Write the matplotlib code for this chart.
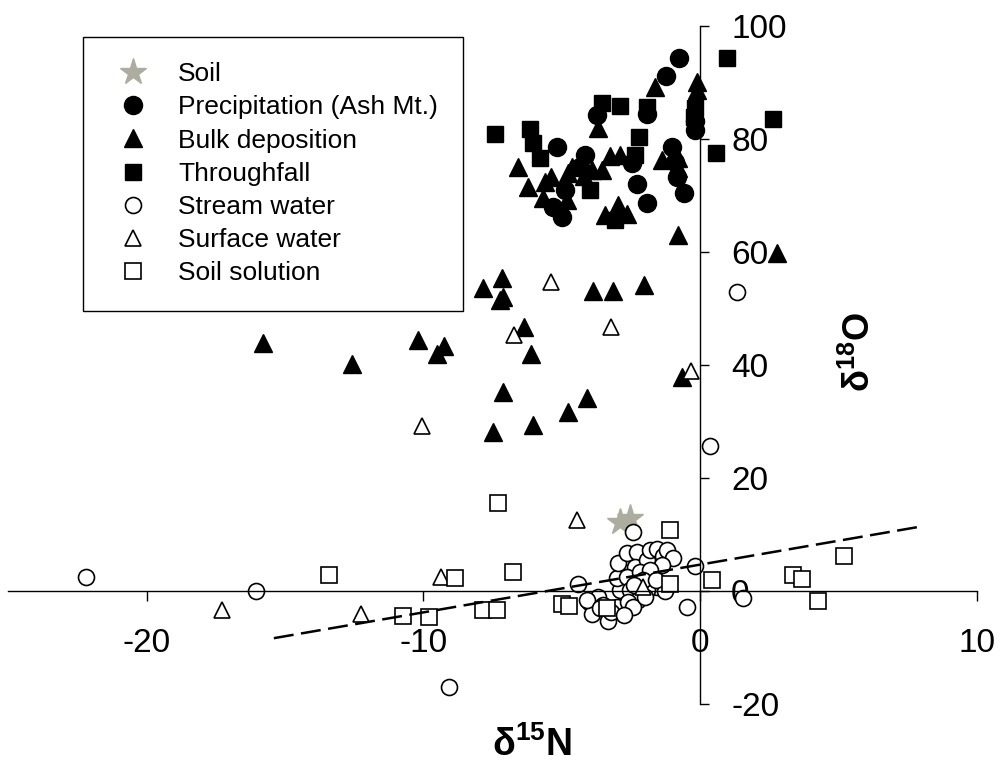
import numpy as np
import matplotlib
matplotlib.use("Agg")
import matplotlib.pyplot as plt

plt.rcParams['font.family'] = ['Liberation Sans', 'DejaVu Sans']
plt.rcParams['mathtext.fontset'] = 'custom'
plt.rcParams['mathtext.rm'] = 'Liberation Sans'
plt.rcParams['mathtext.bf'] = 'Liberation Sans:bold'
plt.rcParams['axes.unicode_minus'] = False

# data (d15N, d18O)
soil_x = [-2.89, -2.53]
soil_y = [12.35, 12.96]

precip_x = [-0.76, -1.24, -1.9, -0.18, -0.18, -1.02, -0.9, -0.84, -0.57, -2.27,
            -1.93, -2.46, -5.18, -4.16, -4.34, -5.0, -5.3, -4.88, -3.73]
precip_y = [94.4, 91.2, 84.6, 83.2, 81.7, 78.7, 76.1, 73.4, 70.5, 72.1,
            68.7, 75.8, 78.7, 77.3, 75.2, 66.3, 68.1, 71.1, 84.3]

bulk_x = [-1.63, -0.12, -0.12, -1.38, -0.78, -0.78, -0.78, 2.77, -3.43, -2.95,
          -2.65, -3.25, -2.89, -3.55, -3.67, -6.57, -6.2, -5.6, -5.66, -5.37,
          -4.82, -4.64, -4.76, -3.91, -4.2,
          -7.17, -7.83, -7.11, -7.23, -3.86, -3.13, -2.01, -6.36, -6.12, -15.8,
          -12.57, -10.18, -9.25, -9.52, -7.13, -7.47, -6.05, -4.76, -4.07, -0.66]
bulk_y = [89.3, 90.2, 88.8, 76.4, 76.7, 74.9, 63.1, 59.9, 66.6, 68.4,
          66.9, 77.0, 77.3, 74.6, 82.0, 75.2, 71.6, 72.5, 69.6, 73.3,
          69.3, 75.2, 74.0, 74.6, 73.5,
          55.4, 53.7, 52.2, 51.6, 53.2, 53.2, 54.2, 46.8, 42.0, 44.0,
          40.2, 44.6, 43.5, 42.0, 35.3, 28.3, 29.5, 31.7, 34.3, 38.0]

through_x = [0.96, 2.65, 0.58, -2.89, -0.18, -0.2, -2.19, -2.35, -3.07, -3.55,
             -6.14, -6.02, -5.78, -7.41, -3.98, -1.92]
through_y = [94.5, 83.6, 77.6, 85.9, 85.5, 84.0, 80.5, 77.3, 65.8, 86.4,
             81.8, 79.3, 76.7, 80.9, 71.1, 85.8]

stream_x = [-22.2, -16.05, -9.07, 0.36, 1.34, 1.57, -0.48, -0.18, -2.41, -4.4,
            -4.0, -3.68, -3.49, -3.91, -3.31, -3.01, -2.89, -3.01, -2.95, -2.65,
            -2.29, -2.35, -2.65, -2.53, -2.23, -2.59, -2.41, -1.93, -1.81, -1.56,
            -1.33, -1.2, -0.96, -1.38, -1.69, -1.56, -1.93, -1.26, -2.17, -1.81,
            -2.05, -4.1, -3.2, -2.75, -2.0, -1.6, -3.6, -2.4]
stream_y = [2.6, 0.0, -16.9, 25.7, 53.0, -1.2, -2.8, 4.5, 10.6, 1.3,
            -1.8, -0.9, -2.4, -3.9, -5.3, -2.7, 0.3, 2.3, 5.0, 6.8,
            7.0, 4.4, 2.6, 0.3, -1.5, -1.8, -2.7, 5.6, 7.3, 7.6,
            6.2, 7.3, 5.9, 4.7, 2.6, 0.85, 0.3, 0.0, 3.5, 3.8,
            2.0, -1.5, -3.6, -4.2, -1.0, 2.0, -3.0, 1.2]

surface_x = [-5.38, -6.71, -3.23, -0.34, -10.03, -4.43, -9.37, -17.29, -12.25, -2.05]
surface_y = [54.7, 45.4, 46.8, 39.1, 29.3, 12.7, 2.6, -3.3, -3.9, 0.85]

soilsol_x = [-7.31, -6.77, -8.85, -10.75, -9.78, -7.83, -7.35, -5.0, -4.73, -13.4,
             -1.08, -1.08, 0.42, -3.37, 5.22, 3.37, 3.67, 4.26]
soilsol_y = [15.7, 3.5, 2.4, -4.3, -4.6, -3.2, -3.2, -2.2, -2.6, 3.0,
             10.9, 1.3, 2.0, -3.0, 6.2, 2.9, 2.2, -1.7]

# regression line
fit_slope = 0.845
fit_icpt = 4.75
fit_range = [-15.4, 8.0]

fig = plt.figure(figsize=(10.01, 7.68), dpi=100)
ax = fig.add_axes([0.0082, 0.0827, 0.9675, 0.8828])

ax.plot(soil_x, soil_y, ls='none', marker='*', ms=20, color='#adad9f', mec='#adad9f', label='Soil')
ax.plot(precip_x, precip_y, ls='none', marker='o', ms=13, color='black', label='Precipitation (Ash Mt.)')
ax.plot(bulk_x, bulk_y, ls='none', marker='^', ms=13, color='black', label='Bulk deposition')
ax.plot(through_x, through_y, ls='none', marker='s', ms=12, color='black', label='Throughfall')
ax.plot(stream_x, stream_y, ls='none', marker='o', ms=11.5, mfc='white', mec='black', mew=1.2, label='Stream water')
ax.plot(surface_x, surface_y, ls='none', marker='^', ms=12, mfc='white', mec='black', mew=1.2, label='Surface water')
ax.plot(soilsol_x, soilsol_y, ls='none', marker='s', ms=11, mfc='white', mec='black', mew=1.2, label='Soil solution')

fx = np.array(fit_range)
ax.plot(fx, fit_slope * fx + fit_icpt, color='black', lw=1.8, ls=(0, (8, 3)))

ax.set_xlim(-25, 10)
ax.set_ylim(-20, 100)

# axes crossing at the origin
ax.spines['left'].set_visible(False)
ax.spines['top'].set_visible(False)
ax.spines['right'].set_position(('data', 0))
ax.spines['bottom'].set_position(('data', 0))
ax.spines['right'].set_linewidth(1.0)
ax.spines['bottom'].set_linewidth(1.0)
ax.yaxis.tick_right()
ax.patch.set_visible(False)

ax.set_xticks([-20, -10, 0, 10])
ax.set_yticks([-20, 0, 20, 40, 60, 80, 100])
ax.tick_params(axis='x', direction='out', length=7, width=1.0, pad=19, labelsize=24)
ax.tick_params(axis='y', direction='out', length=6.5, width=1.0, pad=16, labelsize=24)

fig.text(0.531, 0.030, r'$\mathbf{\delta^{15}N}$', ha='center', va='center', fontsize=27)
fig.text(0.859, 0.542, r'$\mathbf{\delta^{18}O}$', ha='center', va='center', fontsize=26, rotation=90)

leg = ax.legend(loc='upper left', bbox_to_anchor=(83 / 1001, 1 - 37 / 768), bbox_transform=fig.transFigure,
                borderaxespad=0, fontsize=19, numpoints=1, fancybox=False, framealpha=1,
                edgecolor='black', borderpad=0.95, labelspacing=0.35, handlelength=1.9,
                handletextpad=0.76)
leg.get_frame().set_linewidth(1.0)

fig.savefig('out.png', dpi=100)
